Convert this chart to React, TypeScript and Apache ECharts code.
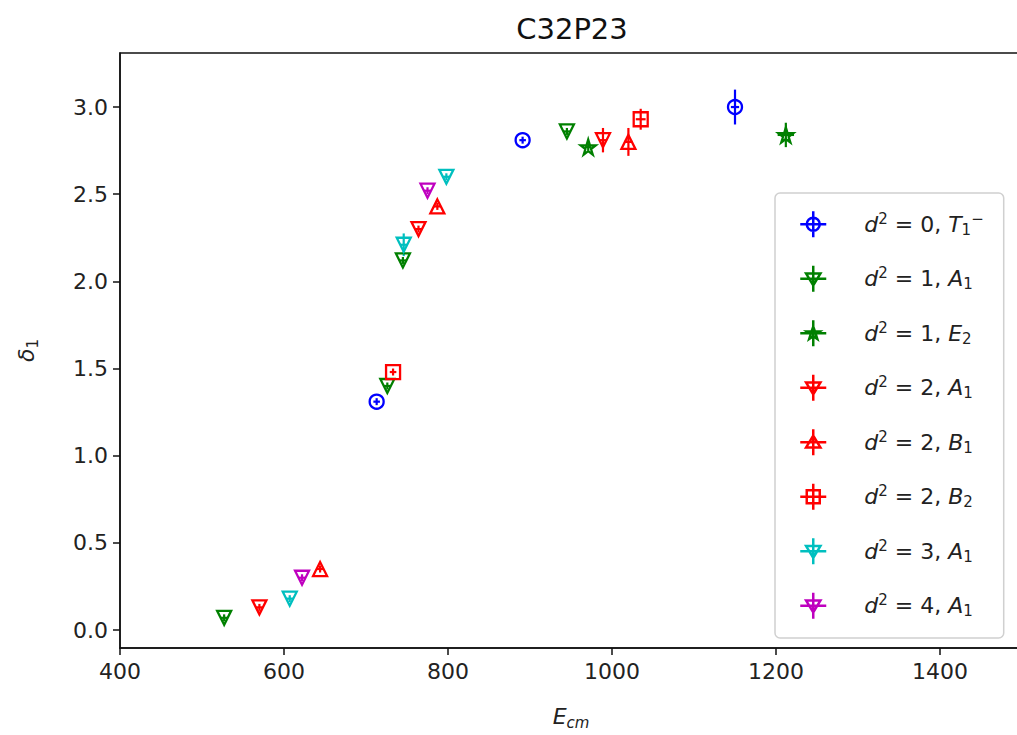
import React, { useEffect, useRef } from "react";
import * as echarts from "echarts";

// ---- tick values ----
const xTicks = [400, 600, 800, 1000, 1200, 1400];
const yTicks = [0, 0.5, 1.0, 1.5, 2.0, 2.5, 3.0];

// ---- series: d^2 = 0, T1- (blue circles) ----
const t1E = [713, 891, 1150];
const t1D = [1.31, 2.81, 3.0];
const t1dE = [4, 4, 5];
const t1dD = [0.02, 0.02, 0.1];

// ---- d^2 = 1, A1 (green down-triangles) ----
const d1a1E = [527, 726, 745, 945];
const d1a1D = [0.07, 1.4, 2.12, 2.86];
const d1a1dE = [4, 4, 4, 4];
const d1a1dD = [0.02, 0.02, 0.02, 0.02];

// ---- d^2 = 1, E2 (green stars) ----
const d1e2E = [971, 1212];
const d1e2D = [2.77, 2.84];
const d1e2dE = [4, 10];
const d1e2dD = [0.02, 0.07];

// ---- d^2 = 2, A1 (red down-triangles) ----
const d2a1E = [570, 764, 989];
const d2a1D = [0.13, 2.3, 2.81];
const d2a1dE = [4, 4, 5];
const d2a1dD = [0.02, 0.02, 0.07];

// ---- d^2 = 2, B1 (red up-triangles) ----
const d2b1E = [644, 787, 1020];
const d2b1D = [0.35, 2.43, 2.8];
const d2b1dE = [4, 4, 5];
const d2b1dD = [0.02, 0.02, 0.08];

// ---- d^2 = 2, B2 (red squares) ----
const d2b2E = [733, 1035];
const d2b2D = [1.48, 2.93];
const d2b2dE = [4, 6];
const d2b2dD = [0.02, 0.06];

// ---- d^2 = 3, A1 (cyan down-triangles) ----
const d3a1E = [607, 746, 798];
const d3a1D = [0.18, 2.21, 2.6];
const d3a1dE = [4, 4, 4];
const d3a1dD = [0.02, 0.065, 0.02];

// ---- d^2 = 4, A1 (magenta down-triangles) ----
const d4a1E = [622, 775];
const d4a1D = [0.3, 2.52];
const d4a1dE = [4, 4];
const d4a1dD = [0.02, 0.02];

const names = ["d2=0,T1-", "d2=1,A1", "d2=1,E2", "d2=2,A1", "d2=2,B1", "d2=2,B2", "d2=3,A1", "d2=4,A1"];
const legendLabels = [
  "{i|d}{sup|2}{n| = 0, }{i|T}{sub|1}{sup|−}",
  "{i|d}{sup|2}{n| = 1, }{i|A}{sub|1}",
  "{i|d}{sup|2}{n| = 1, }{i|E}{sub|2}",
  "{i|d}{sup|2}{n| = 2, }{i|A}{sub|1}",
  "{i|d}{sup|2}{n| = 2, }{i|B}{sub|1}",
  "{i|d}{sup|2}{n| = 2, }{i|B}{sub|2}",
  "{i|d}{sup|2}{n| = 3, }{i|A}{sub|1}",
  "{i|d}{sup|2}{n| = 4, }{i|A}{sub|1}",
];
const colors = ["#0000ff", "#008000", "#008000", "#ff0000", "#ff0000", "#ff0000", "#00bfbf", "#bf00bf"];

const STAR = "path://M50,0 L61,35 L98,35 L68,57 L79,91 L50,70 L21,91 L32,57 L2,35 L39,35 Z";
const symbols = ["circle", "triangle", STAR, "triangle", "triangle", "rect", "triangle", "triangle"];
const rotations = [0, 180, 0, 180, 0, 0, 180, 180];
const legendIcons = [
  "path://M10 0V20M0 10H20M15 10A5 5 0 1 1 5 10A5 5 0 1 1 15 10Z",
  "path://M10 0V20M0 10H20M4.5 6H15.5L10 15Z",
  "path://M10 0V20M0 10H20M10 5L11.3 8.6H15L12 10.8L13.1 14.3L10 12.2L6.9 14.3L8 10.8L5 8.6H8.7Z",
  "path://M10 0V20M0 10H20M4.5 6H15.5L10 15Z",
  "path://M10 0V20M0 10H20M4.5 14H15.5L10 5Z",
  "path://M10 0V20M0 10H20M5 5H15V15H5Z",
  "path://M10 0V20M0 10H20M4.5 6H15.5L10 15Z",
  "path://M10 0V20M0 10H20M4.5 6H15.5L10 15Z",
];

const groups = [
  [t1E, t1D, t1dE, t1dD],
  [d1a1E, d1a1D, d1a1dE, d1a1dD],
  [d1e2E, d1e2D, d1e2dE, d1e2dD],
  [d2a1E, d2a1D, d2a1dE, d2a1dD],
  [d2b1E, d2b1D, d2b1dE, d2b1dD],
  [d2b2E, d2b2D, d2b2dE, d2b2dD],
  [d3a1E, d3a1D, d3a1dE, d3a1dD],
  [d4a1E, d4a1D, d4a1dE, d4a1dD],
];

const FONT = "DejaVu Sans";

export default function App() {
  const ref = useRef<HTMLDivElement>(null);
  useEffect(() => {
    if (!ref.current) return;
    const chart = echarts.init(ref.current, null, { renderer: "svg" });

    const scatterSeries = groups.map((g, k) => ({
      type: "scatter",
      name: names[k],
      data: g[0].map((x: number, i: number) => [x, g[1][i]]),
      symbol: symbols[k],
      symbolRotate: rotations[k],
      symbolSize: k === 2 ? 15 : 14,
      itemStyle: { color: "rgba(255,255,255,0)", borderColor: colors[k], borderWidth: 2.3, opacity: 1 },
      z: 3,
    }));

    const errSeries = groups.map((g, k) => ({
      type: "custom",
      name: names[k],
      data: g[0].map((x: number, i: number) => [x, g[1][i], g[2][i], g[3][i]]),
      encode: { x: 0, y: 1 },
      z: 2,
      renderItem: (params: any, api: any) => {
        const x = api.value(0);
        const y = api.value(1);
        const dx = api.value(2);
        const dy = api.value(3);
        const t = api.coord([x, y + dy]);
        const b = api.coord([x, y - dy]);
        const l = api.coord([x - dx, y]);
        const r = api.coord([x + dx, y]);
        const style = { stroke: colors[k], lineWidth: 2.2 };
        return {
          type: "group",
          children: [
            { type: "line", shape: { x1: t[0], y1: t[1], x2: b[0], y2: b[1] }, style },
            { type: "line", shape: { x1: l[0], y1: l[1], x2: r[0], y2: r[1] }, style },
          ],
        };
      },
    }));

    const rich = {
      i: { fontFamily: FONT, fontStyle: "italic", fontSize: 22, color: "#222", lineHeight: 26 },
      n: { fontFamily: FONT, fontSize: 22, color: "#222", lineHeight: 26 },
      sup: { fontFamily: FONT, fontSize: 15, color: "#222", verticalAlign: "top", lineHeight: 15 },
      sub: { fontFamily: FONT, fontSize: 15, color: "#222", verticalAlign: "bottom", lineHeight: 15 },
    };

    chart.setOption({
      animation: false,
      backgroundColor: "#ffffff",
      title: {
        text: "C32P23",
        left: 567,
        top: 9,
        textAlign: "center",
        textStyle: { fontFamily: FONT, fontSize: 29, fontWeight: "normal", color: "#111" },
      },
      grid: {
        left: 120,
        top: 53,
        right: 23,
        bottom: 85,
        show: true,
        borderColor: "#111",
        borderWidth: 1.5,
        backgroundColor: "transparent",
      },
      xAxis: {
        type: "value",
        min: 400,
        max: 1500,
        interval: 200,
        splitLine: { show: false },
        axisLine: { onZero: false, lineStyle: { color: "#111", width: 1.5 } },
        axisTick: { show: true, length: 7, customValues: xTicks, lineStyle: { color: "#111", width: 1.5 } },
        axisLabel: {
          customValues: xTicks,
          fontFamily: FONT,
          fontSize: 22,
          color: "#222",
          margin: 12,
          formatter: (v: number) => String(v),
        },
        name: "{e|E}{s|cm}",
        nameLocation: "middle",
        nameGap: 54,
        nameTextStyle: {
          rich: {
            e: { fontFamily: FONT, fontStyle: "italic", fontSize: 22, color: "#222", lineHeight: 28 },
            s: { fontFamily: FONT, fontStyle: "italic", fontSize: 15, color: "#222", verticalAlign: "bottom", lineHeight: 15 },
          },
        },
      },
      yAxis: {
        type: "value",
        min: -0.103,
        max: 3.31,
        splitLine: { show: false },
        axisLine: { onZero: false, lineStyle: { color: "#111", width: 1.5 } },
        axisTick: { show: true, length: 7, customValues: yTicks, lineStyle: { color: "#111", width: 1.5 } },
        axisLabel: {
          customValues: yTicks,
          fontFamily: FONT,
          fontSize: 22,
          color: "#222",
          margin: 12,
          formatter: (v: number) => v.toFixed(1),
        },
        name: "{d|δ}{s|1}",
        nameLocation: "middle",
        nameGap: 80,
        nameRotate: 90,
        nameTextStyle: {
          rich: {
            d: { fontFamily: FONT, fontStyle: "italic", fontSize: 22, color: "#222", lineHeight: 28 },
            s: { fontFamily: FONT, fontSize: 15, color: "#222", verticalAlign: "bottom", lineHeight: 15 },
          },
        },
      },
      legend: {
        orient: "vertical",
        left: 775,
        top: 193,
        padding: [17, 20, 18, 24],
        itemGap: 26,
        itemWidth: 26,
        itemHeight: 26,
        backgroundColor: "rgba(255,255,255,0.85)",
        borderColor: "#d0d0d0",
        borderWidth: 1.5,
        borderRadius: 5,
        selectedMode: false,
        data: names.map((n, k) => ({
          name: n,
          icon: legendIcons[k],
          itemStyle: { color: "rgba(255,255,255,0)", borderColor: colors[k], borderWidth: 2.5 },
        })),
        formatter: (n: string) => legendLabels[names.indexOf(n)],
        textStyle: { padding: [0, 0, 0, 33], rich },
      },
      series: [...scatterSeries, ...errSeries],
    } as any);
    return () => chart.dispose();
  }, []);
  return (
    <div style={{ position: "absolute", left: 0, top: 0, width: 1017, height: 735, overflow: "hidden" }}>
      <div ref={ref} style={{ width: 1045, height: 735 }} />
    </div>
  );
}
